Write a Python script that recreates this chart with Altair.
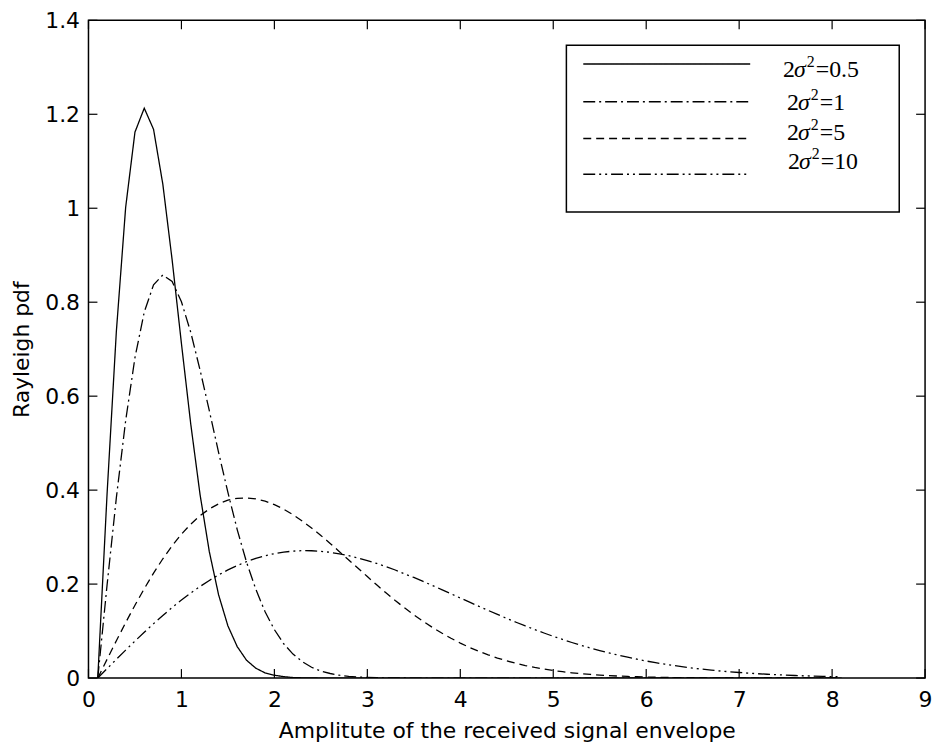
import altair as alt
import pandas as pd

# ---------------- data ----------------
x_values = [
    0.1, 0.2, 0.3, 0.4, 0.5, 0.6, 0.7, 0.8, 0.9, 1.0,
    1.1, 1.2, 1.3, 1.4, 1.5, 1.6, 1.7, 1.8, 1.9, 2.0,
    2.1, 2.2, 2.3, 2.4, 2.5, 2.6, 2.7, 2.8, 2.9, 3.0,
    3.1, 3.2, 3.3, 3.4, 3.5, 3.6, 3.7, 3.8, 3.9, 4.0,
    4.1, 4.2, 4.3, 4.4, 4.5, 4.6, 4.7, 4.8, 4.9, 5.0,
    5.1, 5.2, 5.3, 5.4, 5.5, 5.6, 5.7, 5.8, 5.9, 6.0,
    6.1, 6.2, 6.3, 6.4, 6.5, 6.6, 6.7, 6.8, 6.9, 7.0,
    7.1, 7.2, 7.3, 7.4, 7.5, 7.6, 7.7, 7.8, 7.9, 8.0,
    8.1,
]

pdf_05 = [
    0, 0.392, 0.738, 1.002, 1.162, 1.213, 1.168, 1.051, 0.890, 0.712,
    0.541, 0.391, 0.269, 0.177, 0.111, 0.067, 0.038, 0.021, 0.011, 0.006,
    0.003, 0.001, 0.0005, 0.0002, 0, 0, 0, 0, 0, 0,
    0, 0, 0, 0, 0, 0, 0, 0, 0, 0,
    0, 0, 0, 0, 0, 0, 0, 0, 0, 0,
    0, 0, 0, 0, 0, 0, 0, 0, 0, 0,
    0, 0, 0, 0, 0, 0, 0, 0, 0, 0,
    0, 0, 0, 0, 0, 0, 0, 0, 0, 0,
    0,
]

pdf_1 = [
    0, 0.198, 0.384, 0.548, 0.682, 0.779, 0.837, 0.858, 0.844, 0.801,
    0.736, 0.656, 0.569, 0.480, 0.395, 0.316, 0.247, 0.189, 0.141, 0.103,
    0.073, 0.051, 0.035, 0.023, 0.015, 0.0097, 0.0060, 0.0037, 0.0022, 0.0013,
    0.0007, 0.0004, 0.0002, 0.0001, 0, 0, 0, 0, 0, 0,
    0, 0, 0, 0, 0, 0, 0, 0, 0, 0,
    0, 0, 0, 0, 0, 0, 0, 0, 0, 0,
    0, 0, 0, 0, 0, 0, 0, 0, 0, 0,
    0, 0, 0, 0, 0, 0, 0, 0, 0, 0,
    0,
]

pdf_5 = [
    0, 0.0399, 0.0794, 0.1179, 0.1550, 0.1902, 0.2233, 0.2539, 0.2816, 0.3062,
    0.3275, 0.3455, 0.3599, 0.3709, 0.3785, 0.3826, 0.3835, 0.3815, 0.3767, 0.3692,
    0.3595, 0.3478, 0.3343, 0.3194, 0.3034, 0.2865, 0.2690, 0.2512, 0.2336, 0.2160,
    0.1984, 0.1815, 0.1651, 0.1495, 0.1347, 0.1208, 0.1078, 0.0958, 0.0847, 0.0745,
    0.0652, 0.0569, 0.0494, 0.0426, 0.0365, 0.0314, 0.0267, 0.0227, 0.0192, 0.0161,
    0.0135, 0.0112, 0.0093, 0.0077, 0.0063, 0.0052, 0.0042, 0.0034, 0.0028, 0.0022,
    0.0018, 0.0014, 0.0011, 0.0009, 0.0007, 0.0005, 0.0004, 0.0003, 0.0003, 0.0002,
    0.0002, 0.0001, 0.0001, 0.0001, 0.0001, 0.0001, 0, 0, 0, 0,
    0,
]

pdf_10 = [
    0, 0.0200, 0.0398, 0.0595, 0.0787, 0.0975, 0.1158, 0.1333, 0.1501, 0.1660,
    0.1810, 0.1949, 0.2078, 0.2196, 0.2302, 0.2395, 0.2477, 0.2547, 0.2604, 0.2649,
    0.2681, 0.2702, 0.2712, 0.2710, 0.2698, 0.2676, 0.2645, 0.2604, 0.2556, 0.2501,
    0.2439, 0.2372, 0.2300, 0.2219, 0.2141, 0.2057, 0.1970, 0.1883, 0.1794, 0.1704,
    0.1615, 0.1527, 0.1440, 0.1354, 0.1270, 0.1188, 0.1109, 0.1032, 0.0959, 0.0888,
    0.0821, 0.0757, 0.0696, 0.0639, 0.0585, 0.0534, 0.0487, 0.0443, 0.0401, 0.0363,
    0.0328, 0.0295, 0.0265, 0.0238, 0.0213, 0.0190, 0.0169, 0.0150, 0.0133, 0.0118,
    0.0104, 0.0092, 0.0081, 0.0071, 0.0062, 0.0054, 0.0047, 0.0041, 0.0036, 0.0031,
    0.0027,
]

series_values = ["0.5", "1", "5", "10"]          # values of 2*sigma^2
x_ticks = [0, 1, 2, 3, 4, 5, 6, 7, 8, 9]
y_ticks = [0, 0.2, 0.4, 0.6, 0.8, 1, 1.2, 1.4]

x_title = "Amplitute of the received signal envelope"
y_title = "Rayleigh pdf"

# ---------------- styling ----------------
W, H = 842, 662
TICK = 9
dashes = [[1, 0], [12, 4, 2, 4], [8, 5], [12, 4, 2, 4, 2, 4]]
SANS = "DejaVu Sans"
SERIF = "Liberation Serif"

frames = []
for lab, ys in zip(series_values, [pdf_05, pdf_1, pdf_5, pdf_10]):
    frames.append(pd.DataFrame({"x": x_values, "y": ys, "s": lab}))
df = pd.concat(frames, ignore_index=True)

xscale = alt.Scale(domain=[0, 9], nice=False, zero=False)
yscale = alt.Scale(domain=[0, 1.4], nice=False)

x_axis = alt.Axis(
    values=x_ticks, domain=False, ticks=False, tickSize=0, grid=False,
    labelPadding=12, labelFont=SANS, labelFontSize=22, labelColor="black",
    labelFlush=False, labelOverlap=False,
    labelExpr="toString(datum.value)",
    titleFont=SANS, titleFontSize=22, titleFontWeight="normal", titleColor="black",
    titleY=60, titleBaseline="alphabetic",
)
y_axis = alt.Axis(
    values=y_ticks, domain=False, ticks=False, tickSize=0, grid=False,
    labelPadding=9, labelFont=SANS, labelFontSize=22, labelColor="black",
    labelFlush=False, labelOverlap=False,
    labelExpr="toString(datum.value)",
    titleFont=SANS, titleFontSize=22, titleFontWeight="normal", titleColor="black",
    titleX=-60, titleBaseline="alphabetic",
)

lines = alt.Chart(df).mark_line(color="black", strokeWidth=1.3, clip=True).encode(
    x=alt.X("x:Q", scale=xscale, axis=x_axis, title=x_title),
    y=alt.Y("y:Q", scale=yscale, axis=y_axis, title=y_title),
    strokeDash=alt.StrokeDash(
        "s:N", scale=alt.Scale(domain=series_values, range=dashes), legend=None
    ),
)

tx = pd.DataFrame({"v": x_ticks})
ty = pd.DataFrame({"v": y_ticks})
tick_style = dict(color="black", strokeWidth=1.2)

bottom_ticks = alt.Chart(tx).mark_rule(**tick_style).encode(
    x=alt.X("v:Q", scale=xscale, axis=None), y=alt.value(H), y2=alt.value(H - TICK))
top_ticks = alt.Chart(tx).mark_rule(**tick_style).encode(
    x=alt.X("v:Q", scale=xscale, axis=None), y=alt.value(0), y2=alt.value(TICK))
left_ticks = alt.Chart(ty).mark_rule(**tick_style).encode(
    y=alt.Y("v:Q", scale=yscale, axis=None), x=alt.value(0), x2=alt.value(TICK))
right_ticks = alt.Chart(ty).mark_rule(**tick_style).encode(
    y=alt.Y("v:Q", scale=yscale, axis=None), x=alt.value(W), x2=alt.value(W - TICK))

# ---------------- legend (drawn as annotation) ----------------
one = alt.Data(values=[{}])
legend_layers = [
    alt.Chart(one).mark_rect(fill="white", stroke="black", strokeWidth=1.5).encode(
        x=alt.value(481), x2=alt.value(816), y=alt.value(25), y2=alt.value(193))
]
line_y = [44, 82, 119, 155]
text_y = [50, 83, 113, 143]
text_x = [699, 703, 703, 704]
for i, lab in enumerate(series_values):
    legend_layers.append(
        alt.Chart(one).mark_rule(color="black", strokeWidth=1.4, strokeDash=dashes[i]).encode(
            x=alt.value(498), x2=alt.value(666), y=alt.value(line_y[i]))
    )
    base = dict(font=SERIF, color="black", align="left", baseline="middle")
    legend_layers.append(
        alt.Chart(one).mark_text(text="2", fontSize=24, **base).encode(
            x=alt.value(text_x[i]), y=alt.value(text_y[i])))
    legend_layers.append(
        alt.Chart(one).mark_text(text="σ", fontSize=24, fontStyle="italic", **base).encode(
            x=alt.value(text_x[i] + 11), y=alt.value(text_y[i])))
    legend_layers.append(
        alt.Chart(one).mark_text(text="2", fontSize=16, **base).encode(
            x=alt.value(text_x[i] + 24), y=alt.value(text_y[i] - 8)))
    legend_layers.append(
        alt.Chart(one).mark_text(text="=" + lab, fontSize=24, **base).encode(
            x=alt.value(text_x[i] + 33), y=alt.value(text_y[i])))

chart = alt.layer(
    lines, bottom_ticks, top_ticks, left_ticks, right_ticks, *legend_layers
).resolve_axis(
    x="independent", y="independent"
).properties(
    width=W, height=H,
    padding={"left": 81, "top": 10, "right": 10, "bottom": 67},
    autosize=alt.AutoSizeParams(type="none"),
    background="white",
).configure_view(stroke="black", strokeWidth=1.5)

chart.save("out.html", embed_options={"renderer": "svg", "actions": False})
